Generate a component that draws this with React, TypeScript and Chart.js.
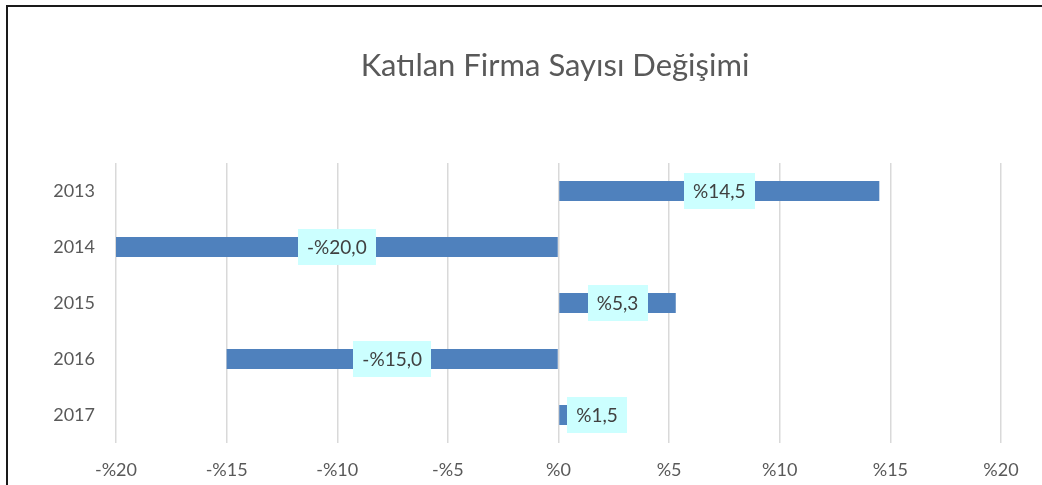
import React, { useEffect, useRef } from "react";
import { Chart, registerables } from "chart.js";

Chart.register(...registerables);

const categories = ["2013", "2014", "2015", "2016", "2017"];
const values = [14.5, -20.0, 5.3, -15.0, 1.5];
const xTicks = [-20, -15, -10, -5, 0, 5, 10, 15, 20];
const titleText = "Katılan Firma Sayısı Değişimi";

const FONT = "Lato, 'Liberation Sans', sans-serif";

const fmtPct = (v: number, dec: number) => {
  const s = Math.abs(v).toFixed(dec).replace(".", ",");
  return (v < 0 ? "-%" : "%") + s;
};

const labelPlugin = {
  id: "boxLabels",
  afterDatasetsDraw(chart: any) {
    const ctx = chart.ctx;
    const meta = chart.getDatasetMeta(0);
    ctx.save();
    ctx.font = `19px ${FONT}`;
    ctx.textBaseline = "middle";
    ctx.textAlign = "center";
    meta.data.forEach((bar: any, i: number) => {
      const v = values[i];
      const text = fmtPct(v, 1);
      const tw = ctx.measureText(text).width;
      const bw = tw + 18;
      const bh = 36;
      const len = Math.abs(bar.x - bar.base);
      let cx = (bar.x + bar.base) / 2;
      if (len < bw) {
        cx = v >= 0 ? bar.base + 8 + bw / 2 : bar.base - 8 - bw / 2;
      }
      const cy = bar.y;
      ctx.fillStyle = "#CCFFFF";
      ctx.fillRect(Math.round(cx - bw / 2), Math.round(cy - bh / 2), Math.round(bw), bh);
      ctx.fillStyle = "#404040";
      ctx.fillText(text, cx, cy + 1);
    });
    ctx.restore();
  },
};

const framePlugin = {
  id: "frame",
  beforeDraw(chart: any) {
    const ctx = chart.ctx;
    ctx.save();
    ctx.fillStyle = "#ffffff";
    ctx.fillRect(0, 0, chart.width, chart.height);
    ctx.restore();
  },
  afterDraw(chart: any) {
    const ctx = chart.ctx;
    ctx.save();
    ctx.fillStyle = "#595959";
    ctx.font = `31px ${FONT}`;
    ctx.textAlign = "center";
    ctx.textBaseline = "alphabetic";
    ctx.fillText(titleText, 555, 76);
    ctx.strokeStyle = "#1a1a1a";
    ctx.lineWidth = 2;
    ctx.beginPath();
    ctx.moveTo(7, chart.height + 10);
    ctx.lineTo(7, 6);
    ctx.lineTo(chart.width + 10, 6);
    ctx.stroke();
    ctx.restore();
  },
};

export default function App() {
  const ref = useRef<HTMLCanvasElement>(null);
  useEffect(() => {
    if (!ref.current) return;
    const chart = new Chart(ref.current, {
      type: "bar",
      data: {
        labels: categories,
        datasets: [
          {
            data: values,
            backgroundColor: "#4F81BD",
            borderWidth: 0,
            categoryPercentage: 1,
            barPercentage: 0.36,
          },
        ],
      },
      options: {
        indexAxis: "y",
        responsive: false,
        animation: false,
        layout: { padding: { top: 163, left: 0, right: 41, bottom: 0 } },
        plugins: {
          legend: { display: false },
          tooltip: { enabled: false },
          title: { display: false },
        },
        scales: {
          x: {
            min: -20,
            max: 20,
            afterBuildTicks: (s: any) => {
              s.ticks = xTicks.map((v) => ({ value: v }));
            },
            afterFit: (s: any) => {
              s.height = 42;
            },
            grid: { color: "#D9D9D9", lineWidth: 1.5, drawTicks: false },
            border: { display: false },
            ticks: {
              padding: 16,
              color: "#595959",
              font: { family: FONT, size: 18 },
              callback: (v: any) => fmtPct(Number(v), 0),
            },
          },
          y: {
            afterFit: (s: any) => {
              s.width = 116;
            },
            grid: { display: false, drawTicks: false },
            border: { display: false },
            ticks: {
              padding: 21,
              color: "#595959",
              font: { family: FONT, size: 18 },
            },
          },
        },
      },
      plugins: [labelPlugin, framePlugin],
    } as any);
    return () => chart.destroy();
  }, []);
  return (
    <div style={{ position: "absolute", left: 0, top: 0, width: 1042, height: 485 }}>
      <canvas ref={ref} width={1042} height={485} />
    </div>
  );
}
